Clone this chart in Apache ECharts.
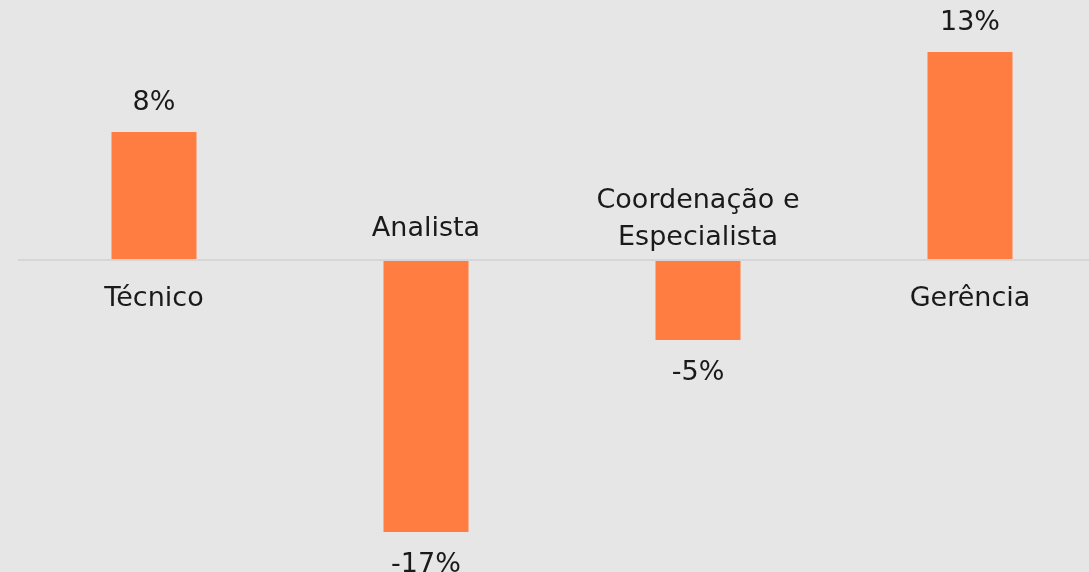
<!DOCTYPE html>
<html>
<head>
<meta charset="utf-8">
<script src="https://cdn.jsdelivr.net/npm/echarts@6/dist/echarts.min.js"></script>
<style>
  html, body { margin: 0; padding: 0; background: #e6e6e6; overflow: hidden; }
  /* a largura extra é cortada pela janela, como no original */
  #chart { width: 1106px; height: 572px; }
</style>
</head>
<body>
<div id="chart"></div>
<script>
  // dados do gráfico
  var categories = ['Técnico', 'Analista', 'Coordenação e\nEspecialista', 'Gerência'];
  var values = [8, -17, -5, 13];

  var font = '"DejaVu Sans", sans-serif';
  var textColor = '#1a1a1a';
  var myChart = echarts.init(document.getElementById('chart'));

  myChart.setOption({
    backgroundColor: '#e6e6e6',
    animation: false,
    grid: { left: 18, right: 0, top: 4, bottom: 24 },
    xAxis: {
      type: 'category',
      data: categories,
      axisLine: { show: false },
      axisTick: { show: false },
      axisLabel: { show: false }
    },
    yAxis: {
      type: 'value',
      min: -18,
      max: 16,
      splitLine: { show: false },
      axisLine: { show: false },
      axisTick: { show: false },
      axisLabel: { show: false }
    },
    series: [{
      type: 'bar',
      barWidth: 85,
      itemStyle: { color: '#ff7d40' },
      data: values.map(function (v) {
        return { value: v, label: { distance: v >= 0 ? 16 : 19 } };
      }),
      label: {
        show: true,
        position: 'outside',
        formatter: function (p) { return p.value + '%'; },
        color: textColor,
        fontFamily: font,
        fontSize: 27
      },
      markLine: {
        silent: true,
        symbol: 'none',
        label: { show: false },
        lineStyle: { color: '#d6d6d6', width: 2, type: 'solid' },
        data: [{ yAxis: 0 }]
      }
    }, {
      // nomes das categorias, do lado oposto da barra
      type: 'scatter',
      symbolSize: 0,
      silent: true,
      itemStyle: { opacity: 1 },
      data: categories.map(function (c, i) {
        var pos = values[i] >= 0 ? 'bottom' : 'top';
        return {
          value: [c, 0],
          label: {
            position: pos,
            distance: values[i] >= 0 ? 20 : (c.indexOf('\n') >= 0 ? 4 : 13)
          }
        };
      }),
      label: {
        show: true,
        formatter: function (p) { return p.value[0]; },
        color: textColor,
        fontFamily: font,
        fontSize: 27,
        lineHeight: 37,
        align: 'center'
      }
    }]
  });
</script>
</body>
</html>
